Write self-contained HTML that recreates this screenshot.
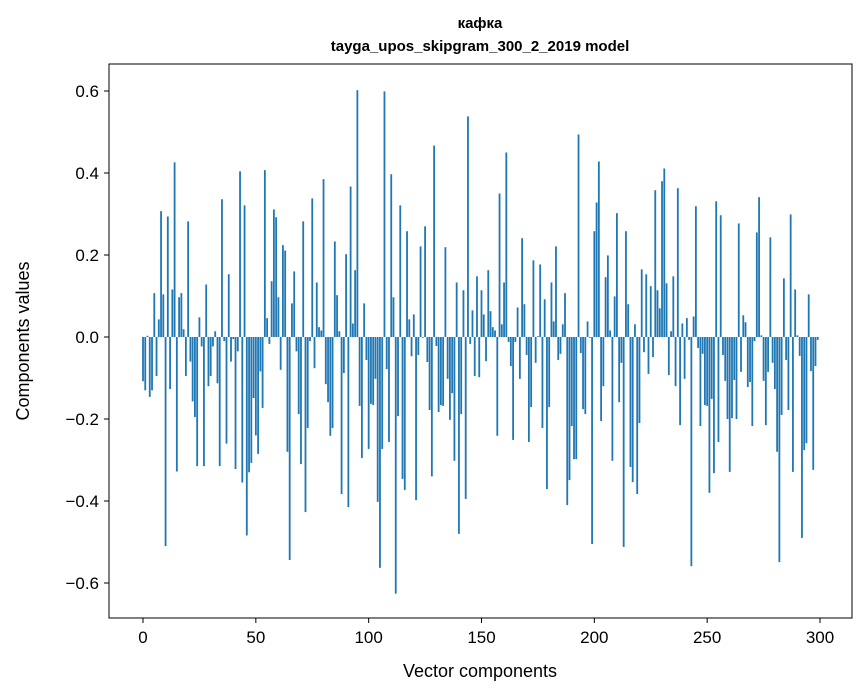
<!DOCTYPE html>
<html><head><meta charset="utf-8"><style>
html,body{margin:0;padding:0;background:#fff;}
svg{display:block;font-family:"Liberation Sans","DejaVu Sans",sans-serif;}
</style></head><body>
<svg id="chart" width="867" height="696" viewBox="0 0 867 696" xmlns="http://www.w3.org/2000/svg">
<rect x="0" y="0" width="867" height="696" fill="#fff"/>
<text x="480" y="28" text-anchor="middle" font-size="15" font-weight="bold">кафка</text>
<text x="480" y="51" text-anchor="middle" font-size="15" font-weight="bold">tayga_upos_skipgram_300_2_2019 model</text>
<g id="bars"></g>
<g id="axes"></g>
<rect x="109" y="64" width="743" height="554" fill="none" stroke="#000" stroke-width="1"/>
<text x="480" y="677" text-anchor="middle" font-size="18">Vector components</text>
<text transform="translate(29,341) rotate(-90)" text-anchor="middle" font-size="18">Components values</text>
</svg>
<script>
const values = [
-0.108,-0.13,0.003,-0.146,-0.13,0.107,-0.095,0.043,0.307,0.104,
-0.51,0.294,-0.127,0.116,0.426,-0.328,0.097,0.107,0.019,-0.095,
0.282,-0.06,-0.157,-0.195,-0.315,0.048,-0.023,-0.315,0.128,-0.12,
-0.095,-0.023,0.014,-0.113,-0.315,0.336,-0.01,-0.26,0.153,-0.06,
-0.005,-0.322,-0.035,0.404,-0.355,0.321,-0.484,-0.33,-0.307,-0.149,
-0.24,-0.285,-0.084,-0.173,0.407,0.046,-0.017,0.136,0.311,0.292,
0.097,-0.08,0.224,0.211,-0.28,-0.544,0.082,0.16,-0.035,-0.188,
-0.31,0.282,-0.427,-0.222,-0.01,0.338,-0.076,0.133,0.024,0.016,
0.385,-0.115,-0.159,-0.241,-0.222,0.233,0.102,0.014,-0.383,-0.088,
0.202,-0.415,0.367,0.033,0.163,0.602,-0.168,-0.295,0.082,-0.056,
-0.273,-0.163,-0.166,-0.102,-0.402,-0.563,-0.273,0.599,-0.078,-0.256,
0.397,0.097,-0.626,-0.193,0.321,-0.346,-0.373,0.258,0.043,-0.047,
0.055,-0.398,-0.044,0.221,-0.002,0.27,-0.061,-0.178,-0.34,0.467,
-0.022,-0.183,-0.166,-0.168,0.219,-0.102,-0.202,-0.137,-0.302,0.133,
-0.48,-0.188,0.114,-0.395,0.538,-0.017,0.065,-0.095,0.148,-0.098,
0.114,0.055,-0.059,0.163,0.063,0.024,0.016,-0.241,0.35,0.031,
0.133,0.45,-0.012,-0.071,-0.251,-0.012,0.072,-0.102,0.241,0.08,
-0.044,-0.256,-0.171,0.187,-0.063,0.002,0.177,-0.222,0.092,-0.371,
-0.171,0.133,0.038,0.221,-0.056,-0.041,0.031,0.107,-0.41,-0.349,
-0.217,-0.298,-0.298,0.494,-0.039,-0.176,-0.188,0.038,-0.002,-0.505,
0.258,0.328,0.428,-0.205,-0.12,0.146,0.199,0.016,-0.302,0.099,
0.302,-0.159,-0.063,-0.512,0.258,0.08,-0.317,-0.354,0.031,-0.383,
-0.21,0.165,-0.037,0.153,-0.09,0.124,-0.049,0.358,0.114,0.07,
0.38,0.411,0.131,-0.093,0.014,0.148,-0.12,0.363,-0.215,0.033,
-0.102,0.046,-0.007,-0.559,0.05,0.319,-0.027,-0.217,-0.041,-0.166,
-0.168,-0.38,-0.151,-0.332,0.331,-0.256,0.297,-0.044,-0.107,-0.2,
-0.329,-0.198,-0.105,-0.2,0.277,-0.085,0.053,0.036,-0.122,-0.11,
-0.217,-0.01,0.255,0.341,0.004,-0.107,-0.215,-0.085,0.243,-0.063,
-0.127,-0.28,-0.549,-0.19,0.143,-0.056,-0.178,0.299,-0.329,0.116,
0.004,-0.046,-0.49,-0.276,-0.259,0.104,-0.083,-0.324,-0.071,-0.007
];
const xTicks = [0,50,100,150,200,250,300];
const yTicks = [-0.6,-0.4,-0.2,0.0,0.2,0.4,0.6];
const yTickLabels = ["\u22120.6","\u22120.4","\u22120.2","0.0","0.2","0.4","0.6"];

const NS = "http://www.w3.org/2000/svg";
function xScale(v){ return 143 + v * (677/300); }
function yScale(v){ return 337 - v * 410; }
const barsG = document.getElementById('bars');
const axesG = document.getElementById('axes');
const bw = 0.8 * (677/300);
values.forEach(function(v,i){
  const r = document.createElementNS(NS,'rect');
  const y0 = yScale(0), y1 = yScale(v);
  r.setAttribute('x', xScale(i) - bw/2);
  r.setAttribute('y', Math.min(y0,y1));
  r.setAttribute('width', bw);
  r.setAttribute('height', Math.max(Math.abs(y1-y0), 0.3));
  r.setAttribute('fill', '#1f77b4');
  
  
  barsG.appendChild(r);
});
xTicks.forEach(function(t){
  const x = xScale(t);
  const l = document.createElementNS(NS,'line');
  l.setAttribute('x1',x); l.setAttribute('x2',x);
  l.setAttribute('y1',618); l.setAttribute('y2',623);
  l.setAttribute('stroke','#000');
  
  
  axesG.appendChild(l);
  const tx = document.createElementNS(NS,'text');
  tx.setAttribute('x',x); tx.setAttribute('y',643);
  tx.setAttribute('text-anchor','middle'); tx.setAttribute('font-size','17');
  tx.textContent = String(t);
  
  
  axesG.appendChild(tx);
});
yTicks.forEach(function(t,i){
  const y = yScale(t);
  const l = document.createElementNS(NS,'line');
  l.setAttribute('x1',104); l.setAttribute('x2',109);
  l.setAttribute('y1',y); l.setAttribute('y2',y);
  l.setAttribute('stroke','#000');
  
  
  axesG.appendChild(l);
  const tx = document.createElementNS(NS,'text');
  tx.setAttribute('x',99); tx.setAttribute('y',y+6);
  tx.setAttribute('text-anchor','end'); tx.setAttribute('font-size','17');
  tx.textContent = yTickLabels[i];
  
  
  axesG.appendChild(tx);
});
</script>
</body></html>
